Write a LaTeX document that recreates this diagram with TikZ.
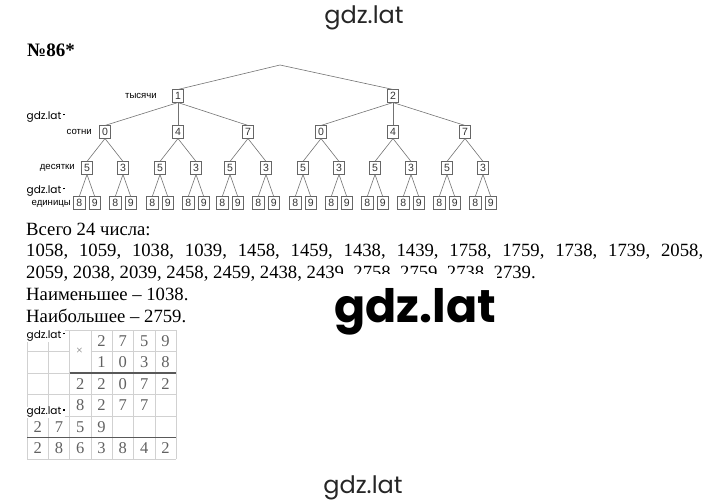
\documentclass[tikz,border=0pt]{standalone}
\usepackage{fontspec}
\setmainfont{Liberation Serif}
\newfontfamily\labelfont{Liberation Sans}
\newfontfamily\wmfont{Poppins}
\begin{document}
\begin{tikzpicture}[x=1pt,y=-1pt,
    digitbox/.style={draw=black!60, line width=0.6pt, inner sep=0pt, minimum width=11.5pt, minimum height=12.5pt,
      font=\labelfont\fontsize{10.5}{10.5}\selectfont, text=black!80},
    branch/.style={draw=black!55, line width=0.6pt},
    levelname/.style={anchor=east, inner sep=0pt, font=\labelfont\fontsize{9.6}{9.6}\selectfont, text=black},
    textline/.style={anchor=base west, inner sep=0pt, font=\fontsize{18.7}{22}\selectfont},
    cell/.style={inner sep=0pt, font=\fontsize{16.5}{16.5}\selectfont, text=black!62},
    gridline/.style={draw=black!18, line width=0.5pt},
    sumline/.style={draw=black!65, line width=1.1pt},
    smallmark/.style={anchor=west, inner sep=0.5pt, fill=white, font=\wmfont\fontsize{10.5}{10.5}\selectfont}
  ]
    \useasboundingbox (0,0) rectangle (720,503);

    % Watermarks at top and bottom, heading
    \node[anchor=base, font=\wmfont\fontsize{24}{24}\selectfont, text=black!85] (wmtop) at (364,24) {gdz.lat};
    \node[anchor=base, font=\wmfont\fontsize{24}{24}\selectfont, text=black!85] (wmbottom) at (363,493) {gdz.lat};
    \node[anchor=base west, inner sep=0pt, font=\bfseries\fontsize{19}{19}\selectfont] (title) at (27,57) {№86*};

    % Tree: thousands, hundreds, tens and units
    \node[digitbox] (th1) at (178,96) {1};
    \node[digitbox] (th2) at (393,96) {2};
    \coordinate (apex) at (280,65);
    \draw[branch] (th1.north) -- (apex) -- (th2.north);

    \foreach \i/\x/\d/\p in {1/105/0/1, 2/178/4/1, 3/248/7/1, 4/321/0/2, 5/393/4/2, 6/465/7/2} {
      \node[digitbox] (hu\i) at (\x,132) {\d};
      \draw[branch] (th\p.south) -- (hu\i.north);
      \foreach \s/\dx/\t in {a/-18/5, b/18/3} {
        \node[digitbox] (te\i\s) at (\x+\dx,168) {\t};
        \draw[branch] (hu\i.south) -- (te\i\s.north);
        \foreach \u/\ux in {8/-7.7, 9/7.7} {
          \node[digitbox] (un\i\s\u) at (\x+\dx+\ux,203) {\u};
          \draw[branch] (te\i\s.south) -- (un\i\s\u.north);
        }
      }
    }

    % Names of the levels
    \node[levelname] (lthousands) at (157,96) {тысячи};
    \node[levelname] (lhundreds) at (92,132) {сотни};
    \node[levelname] (ltens) at (75,168) {десятки};
    \node[levelname] (lunits) at (71,204) {единицы};
    \node[smallmark] (mark1) at (26,117) {gdz.lat\,\raisebox{4pt}{\rule{1.6pt}{1.8pt}}};
    \node[smallmark] (mark2) at (26,191) {gdz.lat\,\raisebox{4pt}{\rule{1.6pt}{1.8pt}}};

    % Answer text
    \node[textline] (count) at (26,235) {Всего 24 числа:};
    \node[textline] (list1) at (26,256.5) {\makebox[677pt][s]{1058, 1059, 1038, 1039, 1458, 1459, 1438, 1439, 1758, 1759, 1738, 1739, 2058,}};
    \node[textline] (list2) at (26,278) {2059, 2038, 2039, 2458, 2459, 2438, 2439, 2758, 2759, 2738, 2739.};
    \node[textline] (least) at (26,300) {Наименьшее – 1038.};
    \node[textline] (most) at (26,322) {Наибольшее – 2759.};
    \node[anchor=base west, fill=white, inner xsep=0.3pt, inner ysep=14pt,
      font=\wmfont\bfseries\fontsize{46}{46}\selectfont] (wmbig) at (334,322) {gdz.lat};

    % Multiplication table
    \foreach \k in {0,...,7}
      \draw[gridline] (27+21.3*\k,330) -- (27+21.3*\k,459);
    \foreach \k in {0,2,3,4,5,6}
      \draw[gridline] (27,330+21.5*\k) -- (176.1,330+21.5*\k);
    \draw[gridline] (27,351.5) -- (69.6,351.5);
    \draw[gridline] (90.9,351.5) -- (176.1,351.5);
    \draw[sumline] (69.6,373) -- (176.1,373);
    \draw[sumline] (27,437.5) -- (176.1,437.5);

    \node[inner sep=0pt, font=\fontsize{12}{12}\selectfont, text=black!50] (times) at (79.5,351.5) {×};
    \foreach \r/\c/\d in {1/4/2, 1/5/7, 1/6/5, 1/7/9,
                          2/4/1, 2/5/0, 2/6/3, 2/7/8,
                          3/3/2, 3/4/2, 3/5/0, 3/6/7, 3/7/2,
                          4/3/8, 4/4/2, 4/5/7, 4/6/7,
                          5/1/2, 5/2/7, 5/3/5, 5/4/9,
                          6/1/2, 6/2/8, 6/3/6, 6/4/3, 6/5/8, 6/6/4, 6/7/2}
      \node[cell] (d\r\c) at ({27+21.3*(\c-0.5)},{330+21.5*(\r-0.5)}) {\d};

    \node[smallmark] (mark3) at (26,336) {gdz.lat\,\raisebox{4pt}{\rule{1.6pt}{1.8pt}}};
    \node[smallmark] (mark4) at (26,412.5) {gdz.lat\,\raisebox{4pt}{\rule{1.6pt}{1.8pt}}};

\end{tikzpicture}
\end{document}
